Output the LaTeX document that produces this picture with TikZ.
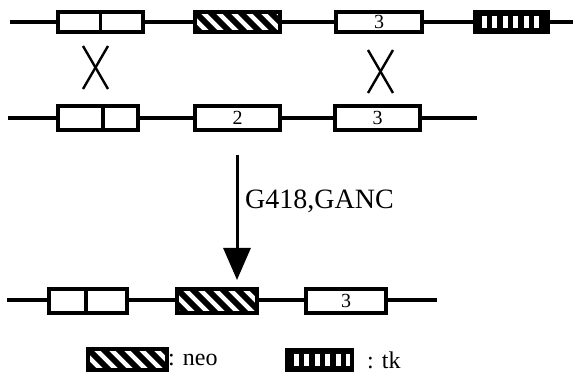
\documentclass[tikz,border=0pt]{standalone}
\usepackage{fontspec}
\setmainfont{Liberation Serif}
\usetikzlibrary{arrows.meta}
\tikzset{
  x=1pt,y=-1pt,
  dna/.style={line width=3.2pt},
  gene/.style={draw, line width=3.6pt, fill=white, inner sep=0pt, minimum height=20pt, font=\fontsize{20}{20}\selectfont},
  divider/.style={line width=3.2pt},
  neo/.style={gene, path picture={
      \foreach \i in {-2,...,8}
        \draw[line width=6pt] ([xshift={\i*15pt}]path picture bounding box.north west) -- ++(26pt,-26pt);}},
  tkbox/.style={gene, fill=black, path picture={
      \foreach \i in {0,...,5}
        \fill[white] ([xshift={(6.5+\i*10.5)*1pt}, yshift=-4.5pt]path picture bounding box.north west) rectangle ++(5pt,-11.5pt);}},
  cross/.style={line width=2.4pt},
  lab/.style={font=\fontsize{28}{28}\selectfont, inner sep=0pt},
  leg/.style={font=\fontsize{24}{24}\selectfont, inner sep=0pt},
}
\begin{document}
\begin{tikzpicture}
\useasboundingbox (0,0) rectangle (579,377);
% row 1
\coordinate (r1s) at (10,22);
\coordinate (r1e) at (573,22);
\draw[dna] (r1s) -- (r1e);
\node[gene, minimum width=85pt] (a1) at (100.5,22) {};
\draw[divider] (a1.north) -- (a1.south);
\node[neo, minimum width=85pt] (a2) at (237.5,22) {};
\node[gene, minimum width=86pt] (a3) at (379,22) {3};
\node[tkbox, minimum width=73pt] (a4) at (511.5,22) {};
% crosses
\coordinate (x1a) at (83,46); \coordinate (x1b) at (108,89);
\coordinate (x1c) at (108,46); \coordinate (x1d) at (83,89);
\draw[cross] (x1a) -- (x1b); \draw[cross] (x1c) -- (x1d);
\coordinate (x2a) at (368,50); \coordinate (x2b) at (393,93);
\coordinate (x2c) at (393,50); \coordinate (x2d) at (368,93);
\draw[cross] (x2a) -- (x2b); \draw[cross] (x2c) -- (x2d);
% row 2
\coordinate (r2s) at (8,118);
\coordinate (r2e) at (477,118);
\draw[dna] (r2s) -- (r2e);
\node[gene, minimum width=80pt, minimum height=24pt] (b1) at (98,118) {};
\draw[divider] (b1.north -| 103,0) -- (b1.south -| 103,0);
\node[gene, minimum width=85pt, minimum height=24pt] (b2) at (237.5,118) {2};
\node[gene, minimum width=85pt, minimum height=24pt] (b3) at (377.5,118) {3};
% arrow
\coordinate (as) at (237,155);
\coordinate (ae) at (237,280);
\draw[line width=3pt, -{Triangle[width=27pt,length=32pt]}] (as) -- (ae);
\node[lab, anchor=west] (g) at (245,201) {G418,GANC};
% row 3
\coordinate (r3s) at (7,300);
\coordinate (r3e) at (437,300);
\draw[dna] (r3s) -- (r3e);
\node[gene, minimum width=78pt, minimum height=24pt] (c1) at (88,301) {};
\draw[divider] (c1.north -| 86,0) -- (c1.south -| 86,0);
\node[neo, minimum width=80pt, minimum height=24pt] (c2) at (217,301) {};
\node[gene, minimum width=80pt, minimum height=24pt] (c3) at (346,301) {3};
% legend
\node[neo, minimum width=79pt, minimum height=21pt] (l1) at (127.5,359.5) {};
\node[leg, anchor=west] (l1t) at (168,360) {: neo};
\node[tkbox, minimum width=65pt, minimum height=21pt] (l2) at (319.5,360) {};
\node[leg, anchor=west] (l2t) at (367,360) {: tk};
\end{tikzpicture}
\end{document}
